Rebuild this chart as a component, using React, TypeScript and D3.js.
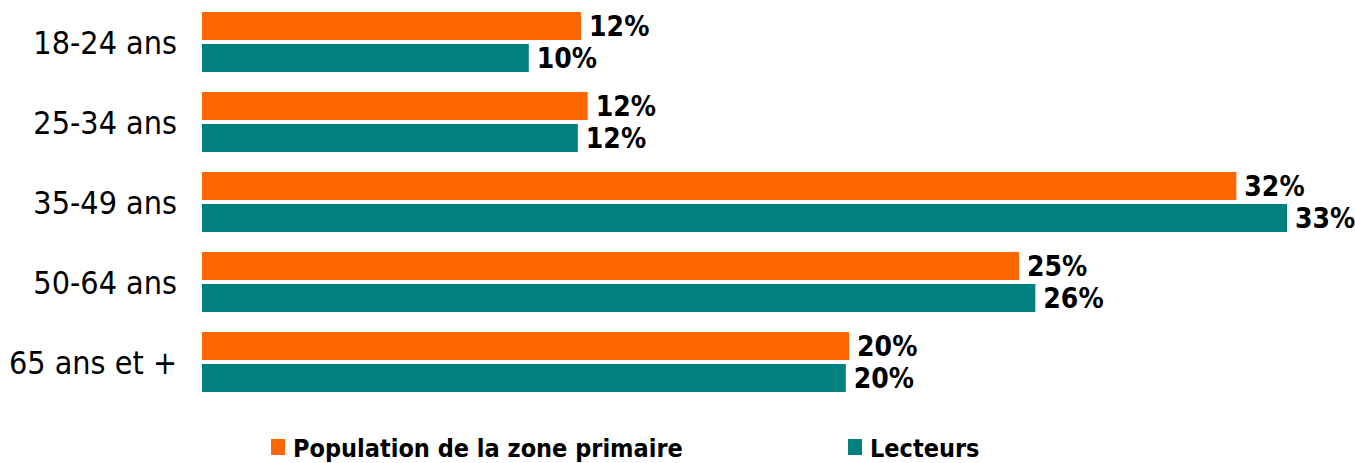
import React, { useEffect, useRef } from 'react';
import * as d3 from 'd3';

const categories = ['18-24 ans', '25-34 ans', '35-49 ans', '50-64 ans', '65 ans et +'];
const populationValues = [11.6, 11.8, 31.65, 25.0, 19.8];
const lecteursValues = [10.0, 11.5, 33.2, 25.5, 19.7];
const seriesNames = ['Population de la zone primaire', 'Lecteurs'];
const seriesColors = ['#FF6600', '#008080'];

const App = () => {
  const svgRef = useRef<SVGSVGElement>(null);

  useEffect(() => {
    const width = 1355;
    const height = 463;
    const font = '"DejaVu Sans Condensed", Tahoma, "DejaVu Sans", sans-serif';

    const svg = d3.select(svgRef.current)
      .attr('width', width)
      .attr('height', height);
    svg.selectAll('*').remove();

    const x = d3.scaleLinear().domain([0, 33.2]).range([202, 1287]);

    const y = d3.scaleBand<string>()
      .domain(categories)
      .range([2, 402])
      .paddingInner(0.25)
      .paddingOuter(0.125);

    const inner = d3.scaleBand<number>()
      .domain([0, 1])
      .range([0, y.bandwidth()])
      .paddingInner(0.125);

    const rows = categories.map((c, i) => ({
      cat: c,
      vals: [populationValues[i], lecteursValues[i]],
    }));

    const groups = svg.selectAll('g.group')
      .data(rows)
      .enter()
      .append('g')
      .attr('class', 'group')
      .attr('transform', d => `translate(0,${y(d.cat)})`);

    groups.selectAll('rect')
      .data(d => d.vals)
      .enter()
      .append('rect')
      .attr('x', x(0))
      .attr('y', (_, j) => inner(j)!)
      .attr('width', v => x(v) - x(0))
      .attr('height', inner.bandwidth())
      .style('fill', (_, j) => seriesColors[j]);

    groups.selectAll('text.val')
      .data(d => d.vals)
      .enter()
      .append('text')
      .attr('class', 'val')
      .attr('x', v => x(v) + 8)
      .attr('y', (_, j) => inner(j)! + inner.bandwidth() / 2)
      .attr('dy', '0.36em')
      .style('font-family', font)
      .style('font-weight', 'bold')
      .style('font-size', '28px')
      .style('fill', '#000')
      .text(v => `${Math.round(v)}%`);

    // category labels
    svg.selectAll('text.cat')
      .data(categories)
      .enter()
      .append('text')
      .attr('class', 'cat')
      .attr('x', 177)
      .attr('y', d => y(d)! + y.bandwidth() / 2)
      .attr('dy', '0.36em')
      .style('text-anchor', 'end')
      .style('font-family', font)
      .style('font-size', '32px')
      .style('fill', '#000')
      .text(d => d);

    // legend
    const legendX = [271, 848];
    const legend = svg.selectAll('g.legend')
      .data(seriesNames)
      .enter()
      .append('g')
      .attr('class', 'legend')
      .attr('transform', (_, i) => `translate(${legendX[i]},439)`);

    legend.append('rect')
      .attr('width', 14)
      .attr('height', 16)
      .style('fill', (_, i) => seriesColors[i]);

    legend.append('text')
      .attr('x', 22)
      .attr('y', 9)
      .attr('dy', '0.36em')
      .style('font-family', font)
      .style('font-weight', 'bold')
      .style('font-size', '25px')
      .style('fill', '#000')
      .text(d => d);
  }, []);

  return <svg ref={svgRef} style={{ position: 'absolute', left: 0, top: 0 }}></svg>;
};

export default App;
